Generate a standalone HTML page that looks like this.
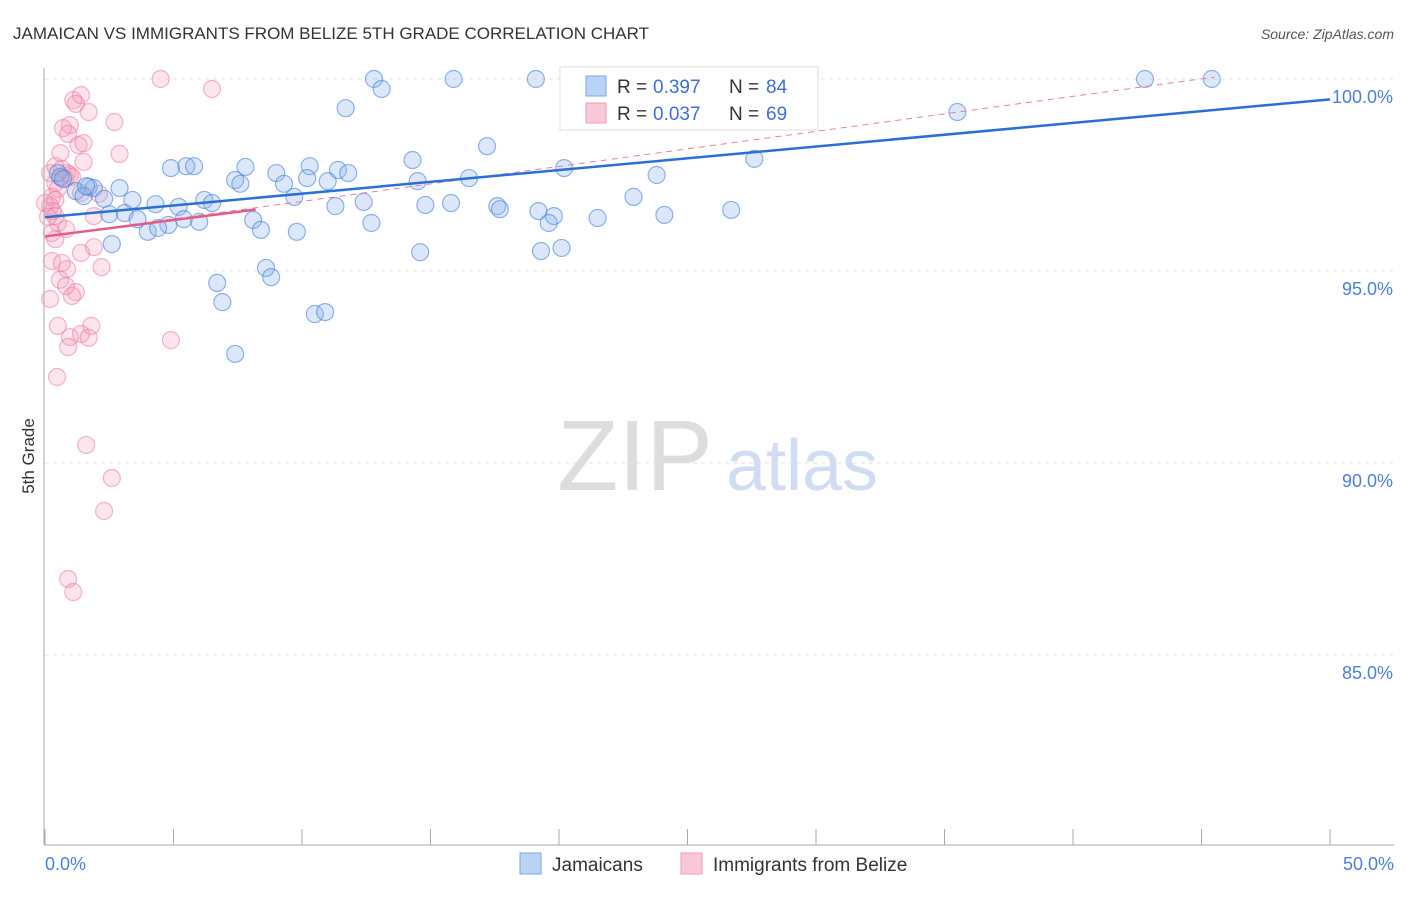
<!DOCTYPE html>
<html><head><meta charset="utf-8"><style>
body{margin:0;background:#fff;font-family:"Liberation Sans",sans-serif;}
svg text{font-family:"Liberation Sans",sans-serif;}
</style></head><body>
<svg id="chart" width="1406" height="892">
<text x="13" y="39" font-size="17" fill="#333">JAMAICAN VS IMMIGRANTS FROM BELIZE 5TH GRADE CORRELATION CHART</text>
<text x="1394" y="39" font-size="14" fill="#555" text-anchor="end" font-style="italic">Source: ZipAtlas.com</text>
<text x="34" y="456" font-size="17" fill="#333" transform="rotate(-90 34 456)" text-anchor="middle">5th Grade</text>
<g><text x="635" y="490" font-size="100" fill="#ddd" text-anchor="middle" font-family="Liberation Serif">ZIP</text><text x="802" y="490" font-size="72" fill="#cfdcf2" text-anchor="middle">atlas</text></g>
<g id="grid"></g><g id="marks"></g><g id="axes"></g>
<g>
<rect x="560" y="67" width="258" height="63" fill="#fff" stroke="#ddd"/>
<rect x="586" y="76" width="20" height="20" fill="#b9d3f5" stroke="#7aa6e6"/>
<text x="617" y="93" font-size="19" fill="#333">R = </text><text x="653" y="93" font-size="19" fill="#3a6fd8">0.397</text>
<text x="729" y="93" font-size="19" fill="#333">N = </text><text x="766" y="93" font-size="19" fill="#3a6fd8">84</text>
<rect x="586" y="103" width="20" height="20" fill="#f9c8d6" stroke="#ef9bb4"/>
<text x="617" y="120" font-size="19" fill="#333">R = </text><text x="653" y="120" font-size="19" fill="#3a6fd8">0.037</text>
<text x="729" y="120" font-size="19" fill="#333">N = </text><text x="766" y="120" font-size="19" fill="#3a6fd8">69</text>
</g>
<g>
<rect x="520" y="853" width="21" height="21" fill="#b9d3f5" stroke="#7aa6e6"/>
<text x="552" y="871" font-size="19" fill="#333">Jamaicans</text>
<rect x="681" y="853" width="21" height="21" fill="#f9c8d6" stroke="#ef9bb4"/>
<text x="713" y="871" font-size="19" fill="#333">Immigrants from Belize</text>
</g>
</svg>
<script>
const yTicks=[100,95,90,85];
const xTickLabels=["0.0%","50.0%"];
const blueX=[42.8,45.4,12.8,15.9,19.1,26.5,13.1,35.5,11.7,17.2,14.3,27.6,7.8,10.3,11.4,11.8,4.9,5.5,5.8,20.2,9.0,0.5,0.6,7.4,7.6,9.3,11.0,10.2,14.5,16.5,23.8,1.7,1.9,2.9,1.2,3.4,6.2,9.7,12.4,22.9,1.5,2.3,4.3,5.2,6.5,2.5,3.1,3.6,5.4,6.0,11.3,14.8,15.8,17.6,17.7,19.2,19.8,21.5,24.1,26.7,8.1,4.8,4.0,4.4,19.6,12.7,8.4,9.8,2.6,14.6,19.3,20.1,8.6,8.8,6.7,6.9,10.5,10.9,7.4,1.6,0.7];
const blueY=[100,100,100,100,100,100,99.74,99.14,99.24,98.25,97.89,97.92,97.71,97.73,97.63,97.55,97.68,97.73,97.73,97.68,97.55,97.55,97.45,97.37,97.27,97.27,97.34,97.42,97.34,97.42,97.50,97.19,97.16,97.16,97.08,96.85,96.85,96.93,96.80,96.93,96.95,96.88,96.74,96.67,96.77,96.48,96.51,96.35,96.35,96.28,96.69,96.72,96.77,96.69,96.61,96.56,96.43,96.38,96.46,96.59,96.33,96.20,96.02,96.12,96.25,96.25,96.07,96.02,95.70,95.49,95.52,95.60,95.08,94.84,94.69,94.19,93.88,93.93,92.84,97.21,97.40];
const pinkX=[4.5,6.5,1.4,1.1,1.2,1.7,2.7,0.7,0.97,0.9,0.6,1.3,1.5,2.9,1.5,0.4,0.66,0.86,0.97,0.78,1.05,0.4,0.5,1.4,2.1,0.27,0.4,0.2,0.3,0.4,1.9,0.5,0.82,0.27,0.4,1.9,1.4,0.27,0.66,0.86,2.2,0.58,0.82,1.2,1.05,0.2,0.5,1.8,0.97,1.4,1.7,0.9,4.9,0.47,1.6,2.6,2.3,0.9,1.1,0,0.12,0.2];
const pinkY=[100,99.74,99.58,99.45,99.35,99.14,98.88,98.72,98.80,98.57,98.07,98.28,98.33,98.05,97.84,97.73,97.66,97.55,97.50,97.40,97.45,97.29,97.14,97.03,97.01,96.93,96.85,96.69,96.56,96.43,96.43,96.25,96.09,95.99,95.83,95.62,95.47,95.26,95.21,95.05,95.10,94.77,94.61,94.45,94.35,94.27,93.57,93.57,93.28,93.36,93.26,93.02,93.20,92.24,90.47,89.61,88.75,86.98,86.64,96.77,96.41,97.55];
const NS="http://www.w3.org/2000/svg";
const X0=45,X1=1330,Y100=79,PX5=192;
function sx(v){return X0+(v/50)*(X1-X0);}
function sy(v){return Y100+(100-v)/5*PX5;}
function mk(t,a,p){const e=document.createElementNS(NS,t);for(const k in a)e.setAttribute(k,a[k]);p.appendChild(e);return e;}
const grid=document.getElementById('grid'),marks=document.getElementById('marks'),axes=document.getElementById('axes');
yTicks.forEach(v=>{
 const l=mk('line',{x1:X0,x2:1394,y1:sy(v),y2:sy(v),stroke:'#e2e2e2','stroke-dasharray':'4,4'},grid);
 
 
 const t=mk('text',{x:1393,y:sy(v)+24,'font-size':18,fill:'#4a7fdc','text-anchor':'end'},axes);
 t.textContent=v.toFixed(1)+'%';
 
 
});
const ax=mk('line',{x1:44,x2:44,y1:68,y2:845,stroke:'#aaa'},axes);


const bx=mk('line',{x1:44,x2:1394,y1:845,y2:845,stroke:'#aaa'},axes);


for(let i=0;i<=10;i++){const tk=mk('line',{x1:sx(i*5),x2:sx(i*5),y1:829,y2:845,stroke:'#aaa'},axes);
 
 }
[[0,'start',45],[50,'end',1394]].forEach((d,i)=>{const t=mk('text',{x:d[2],y:870,'font-size':18,fill:'#4a7fdc','text-anchor':d[1]},axes);t.textContent=xTickLabels[i];
 
 });
pinkX.forEach((x,i)=>{const c=mk('circle',{cx:sx(x),cy:sy(pinkY[i]),r:8.5,fill:'rgba(244,150,180,0.25)',stroke:'rgba(236,120,160,0.55)','stroke-width':1.2},marks);
 
 });
blueX.forEach((x,i)=>{const c=mk('circle',{cx:sx(x),cy:sy(blueY[i]),r:8.5,fill:'rgba(140,180,235,0.3)',stroke:'rgba(70,130,220,0.6)','stroke-width':1.2},marks);
 
 });
const pd=mk('line',{x1:sx(0),y1:sy(95.9),x2:sx(45.5),y2:sy(100.05),stroke:'#e77fa0','stroke-width':1,'stroke-dasharray':'6,5'},marks);


const ps=mk('line',{x1:sx(0),y1:sy(95.9),x2:sx(8.2),y2:sy(96.6),stroke:'#e45c85','stroke-width':2.5},marks);


const bl=mk('line',{x1:sx(0),y1:sy(96.4),x2:sx(50),y2:sy(99.47),stroke:'#2a6fd6','stroke-width':2.5},marks);


</script>
</body></html>
